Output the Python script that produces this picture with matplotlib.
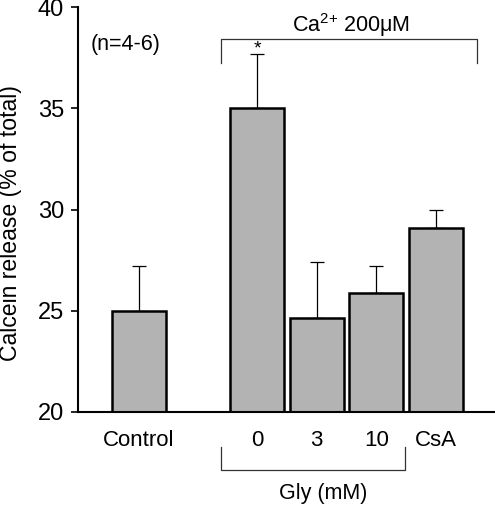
import matplotlib
matplotlib.use("Agg")
import matplotlib.pyplot as plt

plt.rcParams['font.family'] = ['Liberation Sans', 'DejaVu Sans']
plt.rcParams['mathtext.fontset'] = 'custom'
plt.rcParams['mathtext.rm'] = 'Liberation Sans'

categories = ["Control", "0", "3", "10", "CsA"]
positions = [0, 2, 3, 4, 5]
values = [25.0, 35.0, 24.65, 25.9, 29.1]
errors = [2.2, 2.7, 2.75, 1.3, 0.9]

fig = plt.figure(figsize=(4.95, 5.05), dpi=100)
W, H = 495, 505
ax = fig.add_axes([78 / W, 1 - 412 / H, (495 - 78) / W, (412 - 7) / H])

ax.bar(positions, values, width=0.91, bottom=0, color="#b3b3b3",
       edgecolor="black", linewidth=1.8, zorder=2)
ax.errorbar(positions, values, yerr=[[0] * len(errors), errors], fmt="none",
            ecolor="black", elinewidth=0.9, capsize=5, capthick=0.9, zorder=1)

ax.set_xlim(-1.02, 6.0)
ax.set_ylim(20, 40)
ax.set_yticks([20, 25, 30, 35, 40])
ax.set_xticks(positions)
ax.set_xticklabels(categories)
ax.tick_params(axis="x", length=0, pad=13, labelsize=16)
ax.tick_params(axis="y", length=5, width=1.2, direction="out", labelsize=17, pad=5)
for s in ["top", "right"]:
    ax.spines[s].set_visible(False)
ax.spines["left"].set_linewidth(1.5)
ax.spines["bottom"].set_linewidth(1.5)
fig.text(10.5 / W, 1 - 223 / H, "Calcein release (% of total)", rotation=90,
         ha="center", va="center", fontsize=16.6)

# Ca2+ bracket
bx0, bx1 = 1.38, 5.70
ax.plot([bx0, bx0, bx1, bx1], [37.23, 38.42, 38.42, 37.23], color="#333333",
        lw=0.9, clip_on=False)
ax.text(3.57, 39.1, "Ca$^{2{+}}$ 200\u03bcM", ha="center",
        va="center", fontsize=15.5)
ax.text(2, 37.72, "*", ha="center", va="baseline", fontsize=14)
ax.text(-0.815, 38.15, "(n=4-6)", ha="left", va="center", fontsize=15.5)

# Gly bracket
gx0, gx1 = 1.38, 4.49
trans = ax.get_xaxis_transform()
y_top = -(447 - 412) / 405
y_bot = -(470 - 412) / 405
ax.plot([gx0, gx0, gx1, gx1], [y_top, y_bot, y_bot, y_top], color="#333333",
        lw=0.9, transform=trans, clip_on=False)
ax.text(3.1, -(493 - 412) / 405, "Gly (mM)", ha="center", va="center",
        fontsize=15.5, transform=trans)

fig.savefig("out.png", dpi=100)
